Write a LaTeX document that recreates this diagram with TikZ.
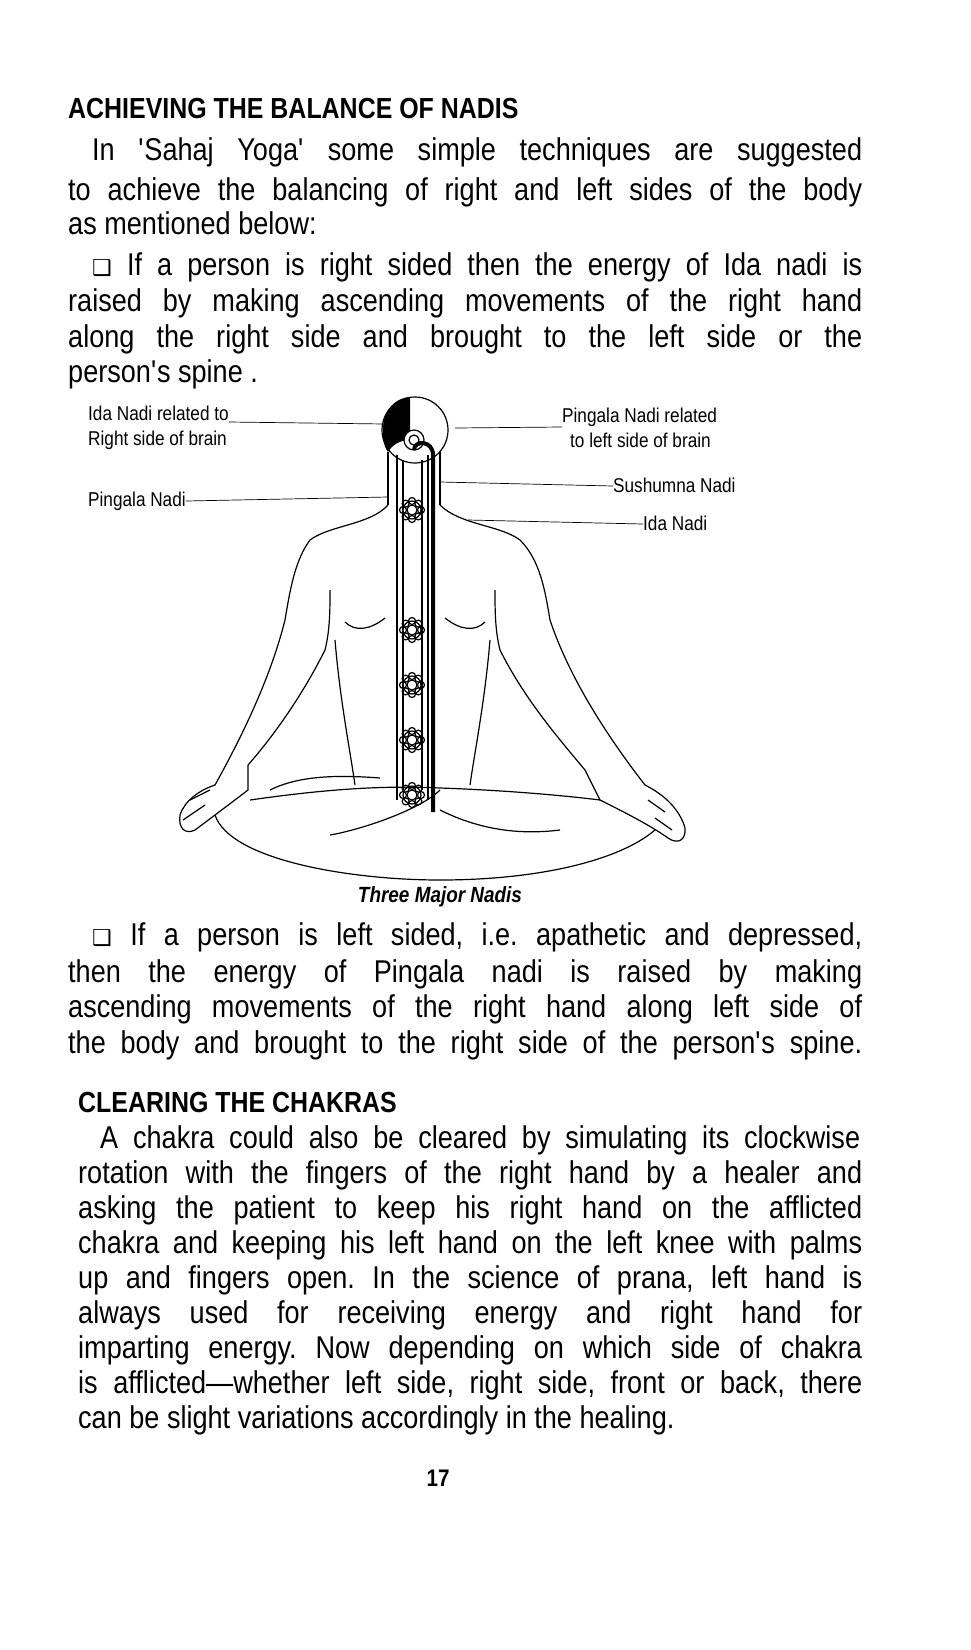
\documentclass[tikz,border=0pt]{standalone}
\usepackage{fontspec}
\setmainfont{Liberation Sans}[FakeStretch=0.86]
\newfontfamily\symf{DejaVu Sans}
\usetikzlibrary{calc}
\begin{document}
\frenchspacing
\begin{tikzpicture}[x=1pt,y=-1pt,
  body/.style={font=\fontsize{31.5}{32}\selectfont,anchor=base west,inner sep=0},
  head/.style={font=\fontsize{29}{32}\selectfont\bfseries,anchor=base west,inner sep=0},
  lab/.style={font=\fontsize{20}{20}\selectfont,anchor=base west,inner sep=0},
  fig/.style={line width=1.2pt},
  leader/.style={line width=0.7pt}]
\fill[white] (0,0) rectangle (970,1650);
\newcommand\jl[1]{\hbox to 794pt{#1}}
\newcommand\jm[1]{\hbox to 770pt{#1}}
\newcommand\jn[1]{\hbox to 784pt{#1}}
\newcommand\boxsym{{\symf\fontsize{22}{20}\selectfont ❑}}
\newcommand\q{\textquotesingle}
\node[head] (h1) at (68,118) {ACHIEVING THE BALANCE OF NADIS};
\node[body] (l1) at (92,160) {\jm{In \q Sahaj Yoga\q\ some simple techniques are suggested}};
\node[body] (l2) at (68,200) {\jl{to achieve the balancing of right and left sides of the body}};
\node[body] (l3) at (68,234) {as mentioned below:};
\node[body] (l4) at (92,275) {\jm{\boxsym\ If a person is right sided then the energy of Ida nadi is}};
\node[body] (l5) at (68,311) {\jl{raised by making ascending movements of the right hand}};
\node[body] (l6) at (68,347) {\jl{along the right side and brought to the left side or the}};
\node[body] (l7) at (68,382) {person\q s spine .};
% figure
\node[lab] (a1) at (88,420) {Ida Nadi related to};
\node[lab] (a2) at (88,445) {Right side of brain};
\node[lab] (b1) at (562,422) {Pingala Nadi related};
\node[lab] (b2) at (570,447) {to left side of brain};
\node[lab] (c1) at (88,506) {Pingala Nadi};
\node[lab] (d1) at (613,492) {Sushumna Nadi};
\node[lab] (e1) at (643,530) {Ida Nadi};
\coordinate (a1e) at (385,424); \coordinate (b1e) at (455,428);
\coordinate (c1e) at (388,497); \coordinate (d1e) at (440,482); \coordinate (e1e) at (468,520);
\draw[leader] ($(a1.base east)+(0,2)$) -- (a1e);
\draw[leader] (b1e) -- ($(b1.base west)+(0,5)$);
\draw[leader] ($(c1.base east)+(0,-5)$) -- (c1e);
\draw[leader] (d1e) -- ($(d1.base west)+(0,-6)$);
\draw[leader] (e1e) -- ($(e1.base west)+(0,-6)$);
% head
\draw[fig] (415,430) circle (33);
\fill (383,430) .. controls (383,410) and (395,398) .. (410,397) -- (410,440) .. controls (400,440) and (392,445) .. (388,452) .. controls (383,445) and (383,438) .. (383,430);
\draw[fig,fill=white] (414,440) circle (10);
\draw[fig] (414,440) circle (5);
% neck and spine column
\draw[fig] (388,452) -- (388,505); \draw[fig] (440,452) -- (440,505);
\draw[fig] (397,455) -- (397,800); \draw[fig] (428,455) -- (428,800);
\draw[fig] (403,460) -- (403,790); \draw[fig] (422,460) -- (422,790);
\draw[line width=4pt] (414,450) .. controls (414,440) and (433,440) .. (433,455) -- (433,812);
\foreach \yy in {510,630,685,740,795}{
  \draw[fig,fill=white] (412,\yy) circle (9);
  \foreach \a in {0,45,...,315}{\draw[fig] (412,\yy) ++(\a:9) circle (3.5);}
  \draw[fig,fill=white] (412,\yy) circle (5);}
% body outline left
\draw[fig] (388,505) .. controls (370,525) and (330,525) .. (310,540)
  .. controls (295,560) and (290,590) .. (285,620)
  .. controls (270,680) and (240,740) .. (215,785);
\draw[fig] (330,590) .. controls (330,610) and (330,630) .. (325,650)
  .. controls (300,700) and (270,740) .. (248,765);
\draw[fig] (335,640) .. controls (340,700) and (350,750) .. (355,785);
\draw[fig] (215,785) .. controls (200,790) and (185,800) .. (180,815) .. controls (178,828) and (185,835) .. (195,830) .. controls (215,815) and (235,800) .. (248,790) -- (248,765);
\draw[fig] (190,800) -- (210,790); \draw[fig] (183,820) -- (205,805);
% right
\draw[fig] (440,505) .. controls (460,525) and (500,525) .. (520,540)
  .. controls (540,560) and (545,590) .. (550,620)
  .. controls (570,680) and (610,740) .. (645,785);
\draw[fig] (495,590) .. controls (495,610) and (495,630) .. (500,650)
  .. controls (525,700) and (560,740) .. (585,770);
\draw[fig] (490,640) .. controls (485,700) and (475,750) .. (470,785);
\draw[fig] (645,785) .. controls (665,795) and (680,810) .. (685,828) .. controls (686,840) and (678,845) .. (668,838) .. controls (650,825) and (620,810) .. (600,800) -- (585,770);
\draw[fig] (648,800) -- (665,812); \draw[fig] (655,818) -- (672,830);
% chest
\draw[fig] (345,622) .. controls (355,632) and (370,630) .. (385,618);
\draw[fig] (445,618) .. controls (460,630) and (475,632) .. (485,622);
% legs
\draw[fig] (215,815) .. controls (230,860) and (350,880) .. (440,880) .. controls (540,880) and (620,860) .. (655,830);
\draw[fig] (250,800) .. controls (320,790) and (380,785) .. (440,788) .. controls (500,790) and (560,795) .. (600,800);
\draw[fig] (270,790) .. controls (300,775) and (340,775) .. (380,778);
\draw[fig] (440,790) .. controls (420,810) and (360,830) .. (330,835);
\draw[fig] (440,810) .. controls (480,830) and (520,835) .. (560,830);
\node[font=\fontsize{22}{22}\selectfont\bfseries\itshape,inner sep=0] (cap) at (440,897) {Three Major Nadis};
% text 2
\node[body] (m1) at (92,945) {\jm{\boxsym\ If a person is left sided, i.e. apathetic and depressed,}};
\node[body] (m2) at (68,982) {\jl{then the energy of Pingala nadi is raised by making}};
\node[body] (m3) at (68,1017) {\jl{ascending movements of the right hand along left side of}};
\node[body] (m4) at (68,1053) {\jl{the body and brought to the right side of the person\q s spine.}};
\node[head] (h2) at (78,1112) {CLEARING THE CHAKRAS};
\node[body] (n1) at (100,1148) {\hbox to 760pt{A chakra could also be cleared by simulating its clockwise}};
\node[body] (n2) at (78,1183) {\jn{rotation with the fingers of the right hand by a healer and}};
\node[body] (n3) at (78,1218) {\jn{asking the patient to keep his right hand on the afflicted}};
\node[body] (n4) at (78,1253) {\jn{chakra and keeping his left hand on the left knee with palms}};
\node[body] (n5) at (78,1288) {\jn{up and fingers open. In the science of prana, left hand is}};
\node[body] (n6) at (78,1323) {\jn{always used for receiving energy and right hand for}};
\node[body] (n7) at (78,1358) {\jn{imparting energy. Now depending on which side of chakra}};
\node[body] (n8) at (78,1393) {\jn{is afflicted---whether left side, right side, front or back, there}};
\node[body] (n9) at (78,1428) {can be slight variations accordingly in the healing.};
\node[font=\fontsize{24}{24}\selectfont\bfseries,inner sep=0] (pg) at (438,1478) {17};
\end{tikzpicture}
\end{document}
